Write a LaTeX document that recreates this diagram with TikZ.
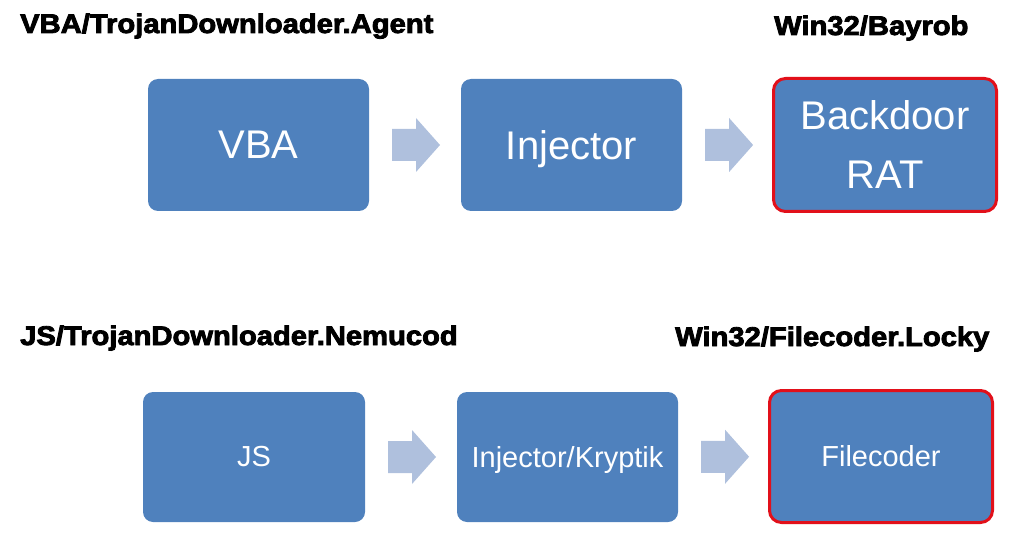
\documentclass[tikz,border=0pt]{standalone}
\usepackage{fontspec}
\setmainfont{Liberation Sans}
\newfontfamily\heavyfont[FakeBold=3]{Liberation Sans Bold}
\usetikzlibrary{calc}
\definecolor{boxblue}{HTML}{4F81BD}
\definecolor{arrowblue}{HTML}{AFC0DD}
\definecolor{hotred}{HTML}{E2101A}
\tikzset{
  stagebox/.style={rectangle, rounded corners=10pt, fill=boxblue, text=white,
    minimum width=221pt, minimum height=132pt, inner sep=0pt, align=center},
  bigtext/.style={font=\fontsize{40}{59}\selectfont},
  smalltext/.style={font=\fontsize{29}{34}\selectfont},
  nodescender/.style={text depth=0pt},
  finalbox/.style={draw=hotred, line width=3pt, rounded corners=12pt},
  familylabel/.style={anchor=base west, inner sep=0pt, font=\heavyfont\fontsize{27}{30}\selectfont},
  arrowshape/.style={fill=arrowblue}
}
\newcommand{\blockarrow}[1]{%
  \fill[arrowshape] ($(#1)+(-24,-16)$) -- ($(#1)+(0,-16)$) -- ($(#1)+(0,-27)$) --
    ($(#1)+(24,0)$) -- ($(#1)+(0,27)$) -- ($(#1)+(0,16)$) -- ($(#1)+(-24,16)$) -- cycle;}
\newcommand{\wide}[1]{\scalebox{1.08}[1]{#1}}
\begin{document}
\begin{tikzpicture}[x=1pt,y=-1pt]
\useasboundingbox (0,0) rectangle (1024,537);
% row 1
\node[stagebox,bigtext] (vba) at (258.5,145) {VBA};
\node[stagebox,bigtext,nodescender] (inj) at (571.5,145) {Injector};
\node[stagebox,bigtext,finalbox,minimum width=223pt,minimum height=133pt] (bd) at (885,145) {Backdoor\\RAT};
\coordinate (a1) at ($(vba.east)!0.5!(inj.west)+(1,0)$);
\coordinate (a2) at ($(inj.east)!0.5!(bd.west)+(2,0)$);
\blockarrow{a1}
\blockarrow{a2}
\node[familylabel] (l1) at (20,33) {\wide{VBA/TrojanDownloader.Agent}};
\node[familylabel] (l2) at (774,35) {\wide{Win32/Bayrob}};
% row 2
\node[stagebox,smalltext,minimum width=222pt,minimum height=130pt] (js) at (254,457) {JS};
\node[stagebox,smalltext,nodescender,minimum height=130pt] (kry) at (567.5,457) {Injector/Kryptik};
\node[stagebox,smalltext,finalbox,minimum width=223pt,minimum height=132pt] (fc) at (881,456.5) {Filecoder};
\coordinate (a3) at ($(js.east)!0.5!(kry.west)+(1,0)$);
\coordinate (a4) at ($(kry.east)!0.5!(fc.west)+(2,0)$);
\blockarrow{a3}
\blockarrow{a4}
\node[familylabel] (l3) at (20,345) {\wide{JS/TrojanDownloader.Nemucod}};
\node[familylabel] (l4) at (675,346) {\wide{Win32/Filecoder.Locky}};
\end{tikzpicture}
\end{document}
